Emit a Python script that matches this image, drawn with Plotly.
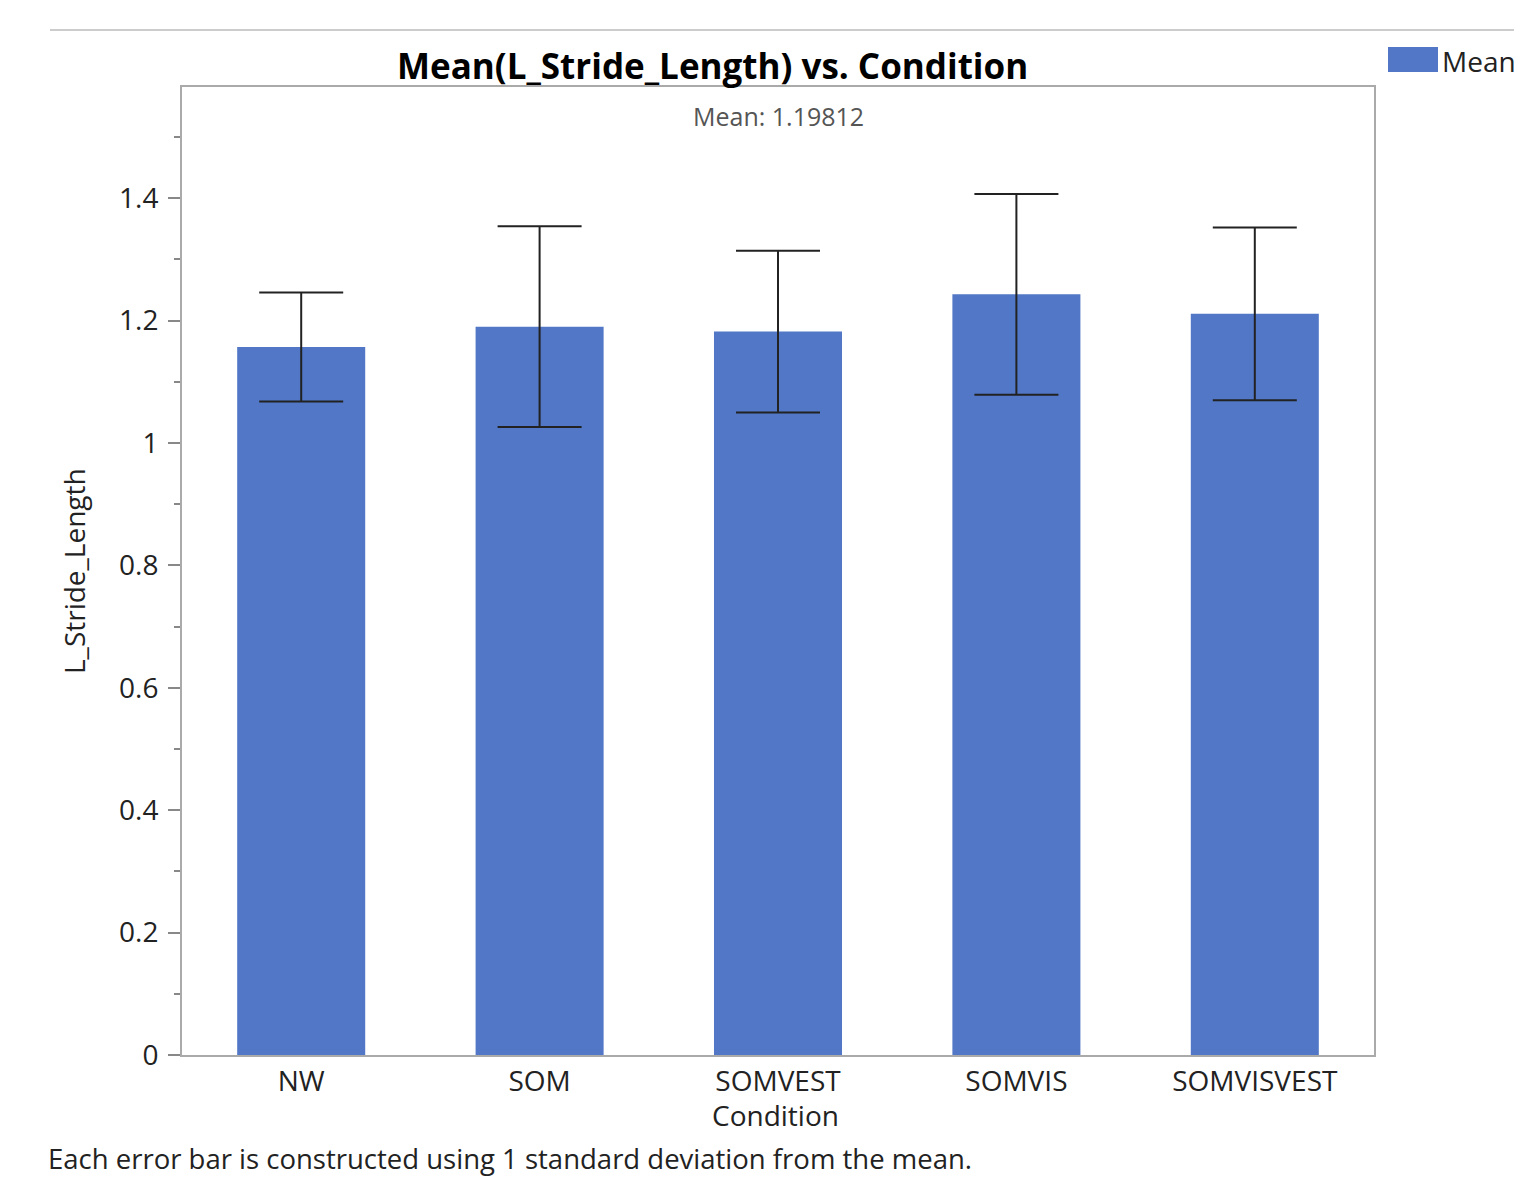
import plotly.graph_objects as go

conditions = ["NW", "SOM", "SOMVEST", "SOMVIS", "SOMVISVEST"]
means = [1.157, 1.190, 1.182, 1.243, 1.211]
std_devs = [0.089, 0.164, 0.132, 0.164, 0.141]
overall_mean = "1.19812"
y_ticks = [0, 0.2, 0.4, 0.6, 0.8, 1.0, 1.2, 1.4]
y_tick_labels = ["0", "0.2", "0.4", "0.6", "0.8", "1", "1.2", "1.4"]

OFF = 8  # page body margin
W, H = 1514, 1170
L, T = 182 - OFF, 87 - OFF
R = W - (1374 - OFF)
B = H - (1055 - OFF)
pw = W - L - R
ph = H - T - B

def px_x(x):
    return (x - OFF - L) / pw

def px_y(y):
    return (H - B - (y - OFF)) / ph

FONT = "Open Sans"
BLUE = "#5177C6"
TXT = "#222222"

fig = go.Figure()
fig.add_trace(go.Bar(
    x=conditions, y=means, name="Mean",
    marker=dict(color=BLUE, line=dict(width=0)),
    error_y=dict(type="data", array=std_devs, visible=True,
                 color="#222222", thickness=2, width=42),
    showlegend=False,
))

fig.update_layout(
    width=W, height=H,
    margin=dict(l=L, r=R, t=T, b=B, autoexpand=False),
    paper_bgcolor="white", plot_bgcolor="white",
    bargap=0.463,
    font=dict(family=FONT, size=28, color=TXT),
    xaxis=dict(
        showline=True, linecolor="#AAAAAA", linewidth=2, mirror=True,
        ticks="", tickfont=dict(size=28, color=TXT),
        showgrid=False,
    ),
    yaxis=dict(
        range=[0, 1.5817],
        showline=True, linecolor="#AAAAAA", linewidth=2, mirror=True,
        ticks="outside", ticklen=12, tickcolor="#888888", tickwidth=1.5,
        tickvals=y_ticks, ticktext=y_tick_labels,
        tickfont=dict(size=28, color=TXT),
        ticklabelstandoff=4,
        minor=dict(dtick=0.1, ticks="outside", ticklen=6, tickcolor="#888888", tickwidth=1.5),
        showgrid=False, zeroline=False,
    ),
)

fig.add_annotation(
    text="<b>Mean(L_Stride_Length) vs. Condition</b>",
    xref="paper", yref="paper", x=px_x(712), y=px_y(65),
    xanchor="center", yanchor="middle", showarrow=False,
    font=dict(size=35, color="#000000", family=FONT),
)
fig.add_annotation(
    text="Mean: " + overall_mean,
    xref="paper", yref="paper", x=px_x(778), y=px_y(116),
    xanchor="center", yanchor="middle", showarrow=False,
    font=dict(size=25, color="#555555"),
)
fig.add_annotation(
    text="L_Stride_Length", textangle=-90,
    xref="paper", yref="paper", x=px_x(74), y=px_y(571),
    xanchor="center", yanchor="middle", showarrow=False,
    font=dict(size=28, color=TXT),
)
fig.add_annotation(
    text="Condition",
    xref="paper", yref="paper", x=px_x(775), y=px_y(1115),
    xanchor="center", yanchor="middle", showarrow=False,
    font=dict(size=28, color=TXT),
)
fig.add_annotation(
    text="Each error bar is constructed using 1 standard deviation from the mean.",
    xref="paper", yref="paper", x=px_x(46), y=px_y(1158),
    xanchor="left", yanchor="middle", showarrow=False,
    font=dict(size=27.5, color=TXT),
)
# legend swatch and label
fig.add_shape(type="rect", xref="paper", yref="paper",
              x0=px_x(1388), x1=px_x(1438), y0=px_y(72), y1=px_y(47),
              fillcolor=BLUE, line=dict(width=0))
fig.add_annotation(
    text="Mean", xref="paper", yref="paper", x=px_x(1440), y=px_y(61),
    xanchor="left", yanchor="middle", showarrow=False,
    font=dict(size=28, color=TXT),
)
# top separator line
fig.add_shape(type="line", xref="paper", yref="paper",
              x0=px_x(50), x1=px_x(1530), y0=px_y(30), y1=px_y(30),
              line=dict(color="#CCCCCC", width=2))

fig.write_html("out.html")
